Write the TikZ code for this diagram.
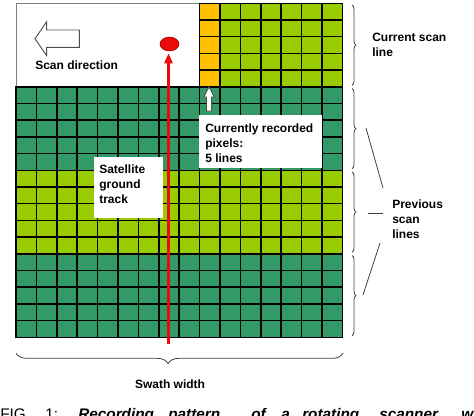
\documentclass[tikz,border=0pt]{standalone}
\usepackage{fontspec}
\setmainfont{Liberation Sans}
\usetikzlibrary{shapes.geometric,decorations.pathreplacing,arrows.meta}

\definecolor{darkpix}{RGB}{51,153,102}
\definecolor{lightpix}{RGB}{153,204,0}
\definecolor{currpix}{RGB}{255,192,0}
\definecolor{trackred}{RGB}{235,10,10}
\definecolor{bracegray}{RGB}{64,64,64}
\definecolor{arrowgray}{RGB}{80,80,80}

\newcommand{\capword}[2]{\makebox[#1][l]{#2}}

\tikzset{
  cellline/.style={line width=1.1pt, black, line cap=rect},
  scanbrace/.style={decorate, decoration={brace, amplitude=3pt}, bracegray, line width=0.6pt},
  pointer/.style={bracegray, line width=0.6pt},
  lbl/.style={anchor=north west, inner sep=0pt, align=left, font=\fontsize{9}{11.1}\selectfont\bfseries},
  blockarrow/.style={fill=white, draw=arrowgray, line width=0.7pt, line join=miter},
}

\begin{document}
\begin{tikzpicture}[x=0.75pt,y=0.75pt,yscale=-1,xscale=1]
\useasboundingbox (0,0) rectangle (474,415);

%Shape: Pixel blocks
\fill[white] (16,3.3) rectangle (199.6,86.8);
\draw[gray, line width=0.5pt] (199.6,3.3) -- (16,3.3) -- (16,86.8);
\fill[currpix] (199.6,3.3) rectangle (220,86.8);
\fill[lightpix] (220,3.3) rectangle (342.4,86.8);
\fill[darkpix] (16,86.8) rectangle (342.4,170.3);
\fill[lightpix] (16,170.3) rectangle (342.4,253.8);
\fill[darkpix] (16,253.8) rectangle (342.4,337.3);

%Straight Lines: pixel grid
\foreach \i in {0,...,8}
  \draw[cellline] ({16+20.4*\i},86.8) -- ({16+20.4*\i},337.3);
\foreach \i in {9,...,16}
  \draw[cellline] ({16+20.4*\i},3.3) -- ({16+20.4*\i},337.3);
\foreach \j in {0,...,4}
  \draw[cellline] (199.6,{3.3+16.7*\j}) -- (342.4,{3.3+16.7*\j});
\foreach \j in {5,...,20}
  \draw[cellline] (16,{3.3+16.7*\j}) -- (342.4,{3.3+16.7*\j});

%Shape: Scan direction arrow
\draw[blockarrow] (35,38.7) -- (46.7,21.7) -- (46.7,30) -- (79.3,30) -- (79.3,47.3) -- (46.7,47.3) -- (46.7,55.7) -- cycle;
% Text Node
\node[lbl] (scandir) at (35,61) {Scan direction};

%Shape: Recorded pixels arrow
\draw[blockarrow] (209,86.8) -- (214.3,97) -- (211.7,97) -- (211.7,111) -- (206.3,111) -- (206.3,97) -- (203.7,97) -- cycle;

%Shape: Text boxes
\fill[white] (199,115) rectangle (322,168);
\fill[white] (94,157) rectangle (163,218);
% Text Node
\node[lbl] (recorded) at (205,124) {Currently recorded\\pixels:\\5 lines};
% Text Node
\node[lbl] (track) at (99,165) {Satellite\\ground\\track};

%Shape: Satellite and ground track
\node[ellipse, fill=trackred, draw=red!60!black, line width=0.4pt, minimum width=14.25pt, minimum height=10.5pt, inner sep=0pt] (sat) at (169.5,44) {};
\coordinate (trackbase) at (168.5,344);
\draw[trackred, line width=2.3pt, -{Triangle[length=7.5pt,width=6pt]}, shorten >=1.5pt] (trackbase) -- (trackbase |- sat.south);

%Braces: scan lines
\draw[scanbrace] (352,5) -- (352,85.3);
\draw[scanbrace] (352,88.5) -- (352,168.7);
\draw[scanbrace] (352,172) -- (352,252.2);
\draw[scanbrace] (352,255.5) -- (352,335.7);
% Text Node
\node[lbl] (current) at (372,33.3) {Current scan\\line};
% Text Node
\node[lbl] (previous) at (392,200) {Previous\\scan\\lines};
%Straight Lines: pointers
\coordinate (brace2) at (366,128);
\coordinate (brace3) at (368,213);
\coordinate (brace4) at (363,295);
\draw[pointer] (brace2) -- ([shift={(-9,-12)}]previous.north west);
\draw[pointer] (brace3) -- ([shift={(-9,13)}]previous.north west);
\draw[pointer] (brace4) -- ([shift={(-12,43)}]previous.north west);

%Brace: swath width
\draw[decorate, decoration={brace, amplitude=8pt, aspect=0.535}, bracegray, line width=0.6pt] (343,353) -- (16,353);
% Text Node
\node[lbl, anchor=north] (swath) at (170,380) {Swath width};

% Text Node: caption (cut by the page edge)
\node[anchor=base west, inner sep=0pt, font=\fontsize{11.5}{13}\selectfont] (caption) at (0,419)
  {\capword{33.75pt}{FIG.}\capword{24.75pt}{1:}\bfseries\itshape\capword{67.5pt}{Recording}\capword{62.25pt}{pattern}\capword{22.5pt}{of}\capword{15.75pt}{a}\capword{57.75pt}{rotating}\capword{61.5pt}{scanner}w};

\end{tikzpicture}
\end{document}
